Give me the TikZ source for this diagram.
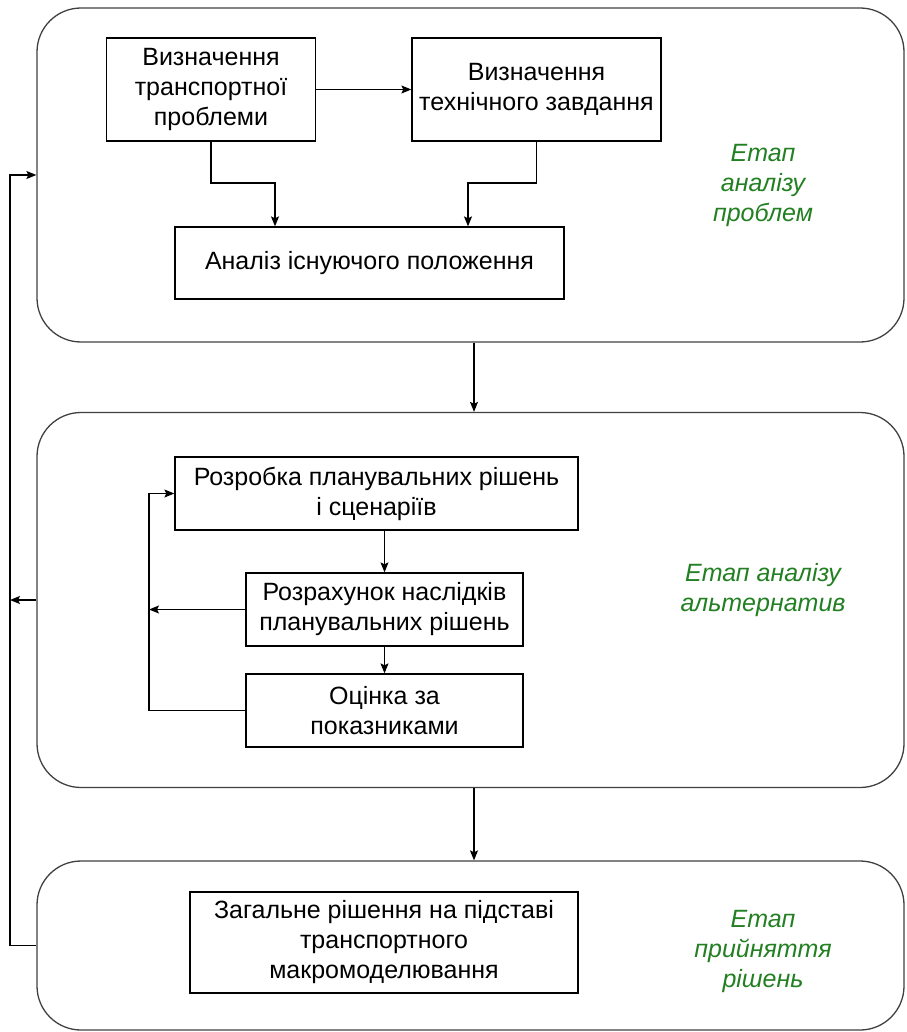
\documentclass[tikz,border=0pt]{standalone}
\usepackage{fontspec}
\setmainfont{Liberation Sans}
\usepackage{xcolor}
\usetikzlibrary{arrows.meta,positioning}
\definecolor{stagegreen}{RGB}{34,128,34}

\begin{document}
\begin{tikzpicture}[x=1pt,y=-1pt,
		stage/.style={draw=black!75,line width=1.3pt,rounded corners=44pt,minimum width=867pt},
		box/.style={draw,line width=1.3pt,align=center,font=\fontsize{25}{30}\selectfont,inner sep=2pt},
		stagelabel/.style={align=center,text=stagegreen,font=\fontsize{25}{30}\selectfont\itshape},
		arr/.style={-{Stealth[length=10pt,width=8pt,inset=2pt]},line width=1.1pt}]
		\useasboundingbox (0,0) rectangle (906,1032);
		\node[stage,minimum height=334pt] (stageA) at (470.5,175) {};
		\node[stage,minimum height=375pt] (stageB) at (470.5,600) {};
		\node[stage,minimum height=169pt] (stageC) at (470.5,945.5) {};
		\node[box,minimum width=209pt,minimum height=103pt] (defprob) at (211,89.5) {Визначення\\транспортної\\проблеми};
		\node[box,minimum width=249pt,minimum height=103pt] (deftask) at (536.5,89.5) {Визначення\\технічного завдання};
		\node[box,minimum width=389pt,minimum height=72pt] (analysis) at (369.5,263) {Аналіз існуючого положення};
		\node[box,minimum width=403pt,minimum height=73pt] (develop) at (376.5,493.5) {Розробка планувальних рішень\\і сценаріїв};
		\node[box,minimum width=277pt,minimum height=73pt] (calc) at (384.5,609.5) {Розрахунок наслідків\\планувальних рішень};
		\node[box,minimum width=277pt,minimum height=73pt] (eval) at (384.5,710.5) {Оцінка за\\показниками};
		\node[box,minimum width=388pt,minimum height=101pt] (decision) at (384,942.5) {Загальне рішення на підставі\\транспортного\\макромоделювання};
		\node[stagelabel] (labA) at (763,185) {Етап\\аналізу\\проблем};
		\node[stagelabel] (labB) at (763,590) {Етап аналізу\\альтернатив};
		\node[stagelabel] (labC) at (763,951) {Етап\\прийняття\\рішень};
		\coordinate (joinA) at (275,183);
		\coordinate (joinB) at (468,183);
		\coordinate (inner) at (149,0);
		\coordinate (outer) at (10,0);
		\draw[arr] (defprob) -- (deftask);
		\draw[arr] (defprob.south) |- (joinA) -- (joinA |- analysis.north);
		\draw[arr] (deftask.south) |- (joinB) -- (joinB |- analysis.north);
		\draw[arr] (develop.south -| calc.north) -- (calc.north);
		\draw[arr] (calc) -- (eval);
		\draw[arr] (eval.west) -- (eval.west -| inner) |- (develop.west);
		\draw[arr] (calc.west) -- (calc.west -| inner);
		\draw[arr] ([xshift=3.5pt]stageA.south) -- ([xshift=3.5pt]stageB.north);
		\draw[arr] ([xshift=3.5pt]stageB.south) -- ([xshift=3.5pt]stageC.north);
		\draw[arr] (stageC.west) -- (stageC.west -| outer) |- (stageA.west);
		\draw[arr] (stageB.west) -- (stageB.west -| outer);
	\end{tikzpicture}
\end{document}
